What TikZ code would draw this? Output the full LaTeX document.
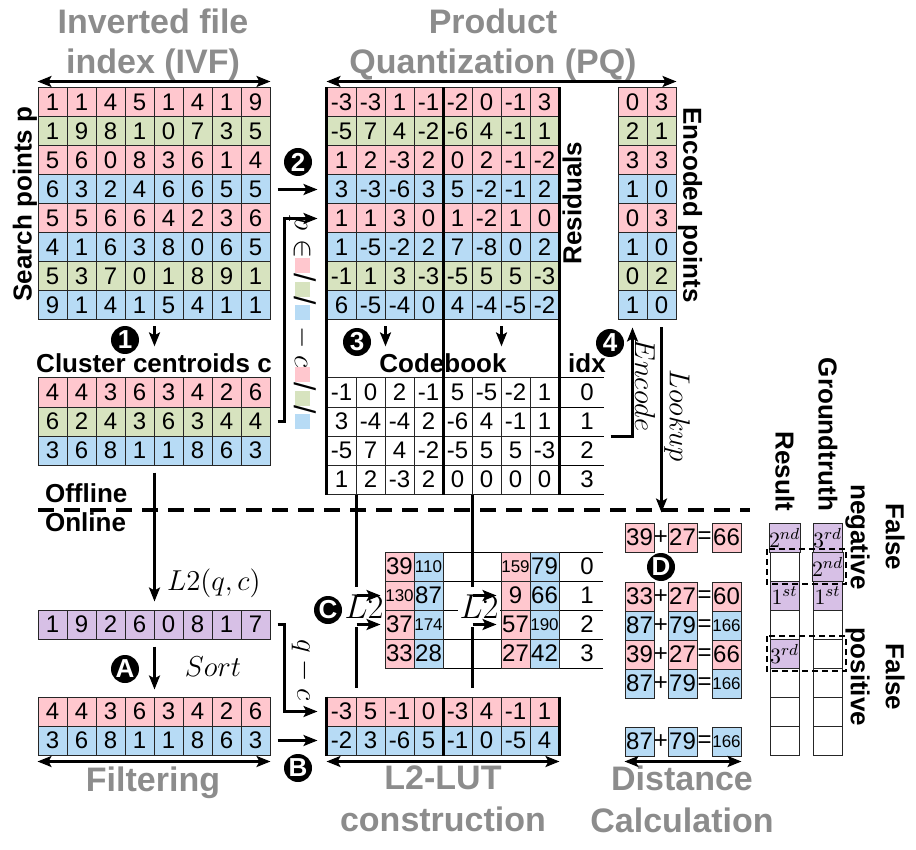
\documentclass[tikz,border=0pt]{standalone}
\usepackage{fontspec}
\setmainfont{Liberation Sans}
\usetikzlibrary{arrows.meta}
\definecolor{pk}{RGB}{255,199,206}
\definecolor{gr}{RGB}{215,227,191}
\definecolor{bl}{RGB}{183,219,245}
\definecolor{pu}{RGB}{215,192,230}
\definecolor{ttl}{RGB}{140,140,140}
\newcommand{\sm}[1]{{\fontsize{8.5}{8.5}\selectfont #1}}
\newcommand{\sq}[1]{\textcolor{#1}{\rule{7.5pt}{7.5pt}}}
\tikzset{
  cell/.style={draw=black!85, line width=0.5pt, minimum width=14.5pt, minimum height=14.5pt, inner sep=0pt, font=\fontsize{12}{12}\selectfont},
  badge/.style={circle, fill=black, text=white, inner sep=0pt, minimum size=14pt, font=\fontsize{13}{13}\selectfont\bfseries},
  ttlab/.style={text=ttl, align=center, font=\fontsize{17}{20}\selectfont\bfseries},
  lab/.style={font=\fontsize{13}{13}\selectfont\bfseries},
  mlab/.style={font=\fontsize{15}{15}\selectfont},
  arr/.style={-{Stealth[length=7pt,width=5.5pt,inset=1.5pt]}, line width=1.2pt},
  darr/.style={{Stealth[length=7pt,width=5.5pt,inset=1.5pt]}-{Stealth[length=7pt,width=5.5pt,inset=1.5pt]}, line width=1.2pt},
  thk/.style={line width=1.5pt},
}
\begin{document}
\begin{tikzpicture}[x=0.5pt,y=-0.5pt]
\useasboundingbox (0,0) rectangle (916,850);

% titles
\node[ttlab] (ivft) at (153,45) {Inverted file\\index (IVF)};
\node[ttlab] (pqt) at (493,45) {Product\\Quantization (PQ)};
\node[ttlab] (fltt) at (153,783) {Filtering};
\node[ttlab, font=\fontsize{17}{21}\selectfont\bfseries] (lutt) at (443,799) {L2-LUT\\construction};
\node[ttlab, font=\fontsize{17}{21}\selectfont\bfseries] (dist) at (682,799) {Distance\\Calculation};

% search points
\foreach \cl/\vals [count=\ri from 0] in {pk/{1,1,4,5,1,4,1,9}, gr/{1,9,8,1,0,7,3,5}, pk/{5,6,0,8,3,6,1,4}, bl/{6,3,2,4,6,6,5,5}, pk/{5,5,6,6,4,2,3,6}, bl/{4,1,6,3,8,0,6,5}, gr/{5,3,7,0,1,8,9,1}, bl/{9,1,4,1,5,4,1,1}}
  \foreach \val [count=\ci from 0] in \vals
    \node[cell, fill=\cl] (ivf-\ri-\ci) at (52.5+29*\ci, 102.5+29*\ri) {\val};
\node[lab, rotate=90] (spl) at (25,204) {Search points p};

% centroids
\node[lab] (clab) at (154,363) {Cluster centroids c};
\foreach \cl/\vals [count=\ri from 0] in {pk/{4,4,3,6,3,4,2,6}, gr/{6,2,4,3,6,3,4,4}, bl/{3,6,8,1,1,8,6,3}}
  \foreach \val [count=\ci from 0] in \vals
    \node[cell, fill=\cl] (cen-\ri-\ci) at (52.5+29*\ci, 392.5+29*\ri) {\val};

% residuals
\foreach \cl/\vals [count=\ri from 0] in {pk/{-3,-3,1,-1,-2,0,-1,3}, gr/{-5,7,4,-2,-6,4,-1,1}, pk/{1,2,-3,2,0,2,-1,-2}, bl/{3,-3,-6,3,5,-2,-1,2}, pk/{1,1,3,0,1,-2,1,0}, bl/{1,-5,-2,2,7,-8,0,2}, gr/{-1,1,3,-3,-5,5,5,-3}, bl/{6,-5,-4,0,4,-4,-5,-2}}
  \foreach \val [count=\ci from 0] in \vals
    \node[cell, fill=\cl] (res-\ri-\ci) at (341.5+29*\ci, 102.5+29*\ri) {\val};
\node[lab, rotate=90] (resl) at (572,203) {Residuals};

% encoded points
\foreach \cl/\vals [count=\ri from 0] in {pk/{0,3}, gr/{2,1}, pk/{3,3}, bl/{1,0}, pk/{0,3}, bl/{1,0}, gr/{0,2}, bl/{1,0}}
  \foreach \val [count=\ci from 0] in \vals
    \node[cell, fill=\cl] (enc-\ri-\ci) at (632.5+29*\ci, 102.5+29*\ri) {\val};
\node[lab, rotate=-90] (encl) at (690,205) {Encoded points};

% codebook
\node[lab] (cbl) at (443,363) {Codebook};
\node[lab] (idxl) at (587,363) {idx};
\foreach \vals [count=\ri from 0] in {{-1,0,2,-1,5,-5,-2,1}, {3,-4,-4,2,-6,4,-1,1}, {-5,7,4,-2,-5,5,5,-3}, {1,2,-3,2,0,0,0,0}}
{
  \foreach \val [count=\ci from 0] in \vals
    \node[cell] (cb-\ri-\ci) at (341.5+29*\ci, 392.5+29*\ri) {\val};
  \node[cell, draw=none] (idx-\ri) at (587, 392.5+29*\ri) {\ri};
  \draw[line width=0.5pt] (cb-\ri-7.south east) -- ++(44,0);
}
\draw[line width=0.5pt] (cb-0-7.north east) -- ++(44,0);
\draw[thk] (res-0-0.north west) -- (cb-3-0.south west);
\draw[thk] (res-0-3.north east) -- (cb-3-3.south east);
\draw[thk] (res-0-7.north east) -- (cb-3-7.south east);

% query distances and filtering
\foreach \val [count=\ci from 0] in {1,9,2,6,0,8,1,7}
  \node[cell, fill=pu] (qv-\ci) at (52.5+29*\ci, 624.5) {\val};
\foreach \cl/\vals [count=\ri from 0] in {pk/{4,4,3,6,3,4,2,6}, bl/{3,6,8,1,1,8,6,3}}
  \foreach \val [count=\ci from 0] in \vals
    \node[cell, fill=\cl] (flt-\ri-\ci) at (52.5+29*\ci, 711.5+29*\ri) {\val};

% q-c per cluster
\foreach \cl/\vals [count=\ri from 0] in {pk/{-3,5,-1,0,-3,4,-1,1}, bl/{-2,3,-6,5,-1,0,-5,4}}
  \foreach \val [count=\ci from 0] in \vals
    \node[cell, fill=\cl] (lut-\ri-\ci) at (341.5+29*\ci, 711.5+29*\ri) {\val};
\draw[thk] (lut-0-0.north west) -- (lut-1-0.south west);
\draw[thk] (lut-0-3.north east) -- (lut-1-3.south east);
\draw[thk] (lut-0-7.north east) -- (lut-1-7.south east);

% L2 lookup table
\foreach \y in {552,581,610,639,668}
  \draw[line width=0.5pt] (385,\y) -- (603,\y);
\foreach \pa/\pb/\pc/\pd [count=\ri from 0] in {39/\sm{110}/\sm{159}/79, \sm{130}/87/9/66, 37/\sm{174}/57/\sm{190}, 33/28/27/42}
{
  \node[cell, fill=pk] (lt-\ri-0) at (399.5, 566.5+29*\ri) {\pa};
  \node[cell, fill=bl] (lt-\ri-1) at (428.5, 566.5+29*\ri) {\pb};
  \node[cell, fill=pk] (lt-\ri-2) at (515.5, 566.5+29*\ri) {\pc};
  \node[cell, fill=bl] (lt-\ri-3) at (544.5, 566.5+29*\ri) {\pd};
  \node[cell, draw=none] (ltx-\ri) at (587, 566.5+29*\ri) {\ri};
}
\draw[line width=1.3pt, shorten >=4.5pt] (cb-3-0.south east) -- (cb-3-0.south east |- lut-0-0.north);
\draw[line width=1.3pt, shorten >=4.5pt] (cb-3-4.south east) -- (cb-3-4.south east |- lut-0-0.north);
\node[mlab, fill=white, inner xsep=1pt, inner ysep=4pt, font=\fontsize{16}{16}\selectfont] (l2a) at (364,607) {$L2$};
\node[mlab, fill=white, inner xsep=1pt, inner ysep=4pt, font=\fontsize{16}{16}\selectfont] (l2b) at (479,607) {$L2$};
\draw[arr, shorten >=2pt] (cb-3-0.south east |- lt-1-0.west) -- (lt-1-0.west);
\draw[arr, shorten >=2pt] (cb-3-0.south east |- lt-2-0.west) -- (lt-2-0.west);
\draw[arr, shorten >=2pt] (cb-3-4.south east |- lt-1-2.west) -- (lt-1-2.west);
\draw[arr, shorten >=2pt] (cb-3-4.south east |- lt-2-2.west) -- (lt-2-2.west);

% distance calculation
\foreach \cl/\pa/\pb/\pc/\y [count=\ri from 0] in {pk/39/27/66/537.5, pk/33/27/60/596.5, bl/87/79/\sm{166}/625.5, pk/39/27/66/654.5, bl/87/79/\sm{166}/683.5, bl/87/79/\sm{166}/741.5}
{
  \node[cell, fill=\cl] (dc-\ri-0) at (639.5,\y) {\pa};
  \node[cell, draw=none] (pl-\ri) at (661,\y) {+};
  \node[cell, fill=\cl] (dc-\ri-1) at (682.5,\y) {\pb};
  \node[cell, draw=none] (eq-\ri) at (704.5,\y) {=};
  \node[cell, fill=\cl] (dc-\ri-2) at (726.5,\y) {\pc};
}

% result vs groundtruth
\foreach \cl/\t [count=\ri from 0] in {pu/$2^{nd}$, white/{}, pu/$1^{st}$, white/{}, pu/$3^{rd}$, white/{}, white/{}, white/{}}
  \node[cell, fill=\cl, font=\fontsize{11}{11}\selectfont] (rs-\ri) at (784.5, 537.5+29*\ri) {\t};
\foreach \cl/\t [count=\ri from 0] in {pu/$3^{rd}$, pu/$2^{nd}$, pu/$1^{st}$, white/{}, white/{}, white/{}, white/{}, white/{}}
  \node[cell, fill=\cl, font=\fontsize{11}{11}\selectfont] (gt-\ri) at (827.5, 537.5+29*\ri) {\t};
\draw[dashed, line width=0.6pt, dash pattern=on 3pt off 2pt] (767,549) rectangle (846,584);
\draw[dashed, line width=0.6pt, dash pattern=on 3pt off 2pt] (767,636) rectangle (846,671);
\node[lab, rotate=-90, anchor=east] (rsl) at (785,518) {Result};
\node[lab, rotate=-90, anchor=east] (gtl) at (828,518) {Groundtruth};
\node[lab, rotate=-90, align=center, font=\fontsize{13}{17.5}\selectfont\bfseries] (fn) at (875,537) {False\\negative};
\node[lab, rotate=-90, align=center, font=\fontsize{13}{17.5}\selectfont\bfseries] (fp) at (875,677) {False\\positive};

% offline / online
\node[lab, anchor=west] (off) at (38,493) {Offline};
\node[lab, anchor=west] (on) at (38,522) {Online};
\draw[line width=2pt, dash pattern=on 8pt off 5pt] (38,510) -- (750,510);

% double arrows
\draw[darr] ([yshift=3pt]ivf-0-0.north west) -- ([yshift=3pt]ivf-0-7.north east);
\draw[darr] ([yshift=3pt]res-0-0.north west) -- ([yshift=3pt]enc-0-1.north east);
\draw[darr] ([yshift=-3pt]flt-1-0.south west) -- ([yshift=-3pt]flt-1-7.south east);
\draw[darr] ([yshift=-3pt]lut-1-0.south west) -- ([yshift=-3pt]lut-1-7.south east);
\draw[darr] ([yshift=-2.5pt]dc-5-0.south west) -- ([yshift=-2.5pt]dc-5-2.south east);

% steps
\draw[arr] (ivf-7-3.south east) ++(0,6) -- (ivf-7-3.south east |- clab.north);
\node[badge] (b1) at (125,340) {1};
\draw[arr, shorten >=4.5pt] (ivf-3-7.east) ++(7,0) -- (res-3-0.west);
\node[badge] (b2) at (298,162) {2};
\draw[arr, shorten >=4.5pt] (cen-1-7.east) ++(7,0) -- ++(7,0) |- (res-4-0.west);
\node[mlab, rotate=-90] (plab) at (303,323) {$p\in$\sq{pk}/\sq{gr}/\sq{bl}${}-c$\sq{pk}/\sq{gr}/\sq{bl}};
\draw[arr] (res-7-1.south east) ++(0,6) -- (res-7-1.south east |- cbl.north);
\draw[arr] (res-7-5.south east) ++(0,6) -- (res-7-5.south east |- cbl.north);
\node[badge] (b3) at (357,342) {3};
\draw[arr, shorten >=3.5pt] (cb-1-7.south east) ++(51,0) -| (enc-7-0.south);
\node[badge] (b4) at (610,343) {4};
\node[mlab, rotate=-90] (encd) at (645,385) {$Encode$};
\draw[arr, shorten >=5pt] (enc-7-1.south) ++(0,7) -- (enc-7-1.south |- dc-0-1.north);
\node[mlab, rotate=-90] (lkp) at (677,416) {$Lookup$};

\draw[arr, shorten >=4pt] (cen-2-3.south east) ++(0,7) -- (qv-3.north east);
\node[mlab, anchor=west] (l2qc) at (160,583) {$L2(q,c)$};
\draw[arr, shorten >=3.5pt] (qv-3.south east) ++(0,7) -- (flt-0-3.north east);
\node[badge] (ba) at (125,669) {A};
\node[mlab] (sort) at (213,667) {$Sort$};
\draw[arr, shorten >=4.5pt] (qv-7.east) ++(7,0) -- ++(7,0) |- (lut-0-0.west);
\node[mlab, rotate=-90] (qc) at (303,670) {$q-c$};
\draw[arr, shorten >=4.5pt] (flt-1-7.east) ++(7,0) -- (lut-1-0.west);
\node[badge] (bb) at (298,768) {B};
\node[badge] (bc) at (328,610) {C};
\node[badge] (bd) at (661,567) {D};
\end{tikzpicture}
\end{document}
